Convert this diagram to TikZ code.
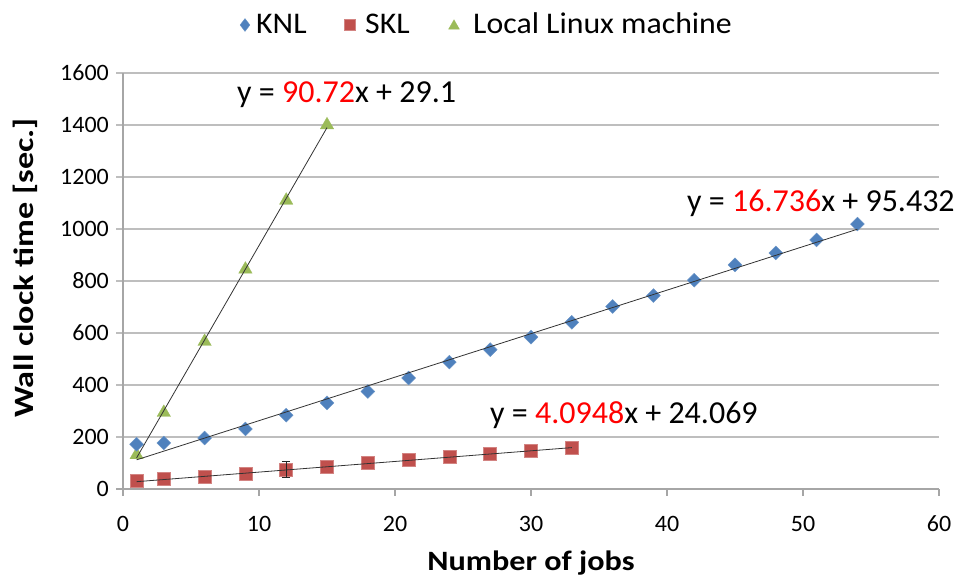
\documentclass[tikz,border=0pt]{standalone}
\usepackage{fontspec}
\setmainfont{Carlito}
\usetikzlibrary{shapes.geometric}

\definecolor{knlblue}{HTML}{4F81BD}
\definecolor{sklred}{HTML}{C0504D}
\definecolor{linuxgreen}{HTML}{9BBB59}
\definecolor{gridgray}{HTML}{BEBEBE}
\definecolor{axisgray}{HTML}{A6A6A6}
\definecolor{fitred}{HTML}{FF0000}

\newcommand{\hwide}[2]{\scalebox{#1}[1]{#2}}

\tikzset{
  knlmark/.style={diamond, fill=knlblue, draw=knlblue!85!white, line width=0.4pt,
    minimum width=14pt, minimum height=14pt, inner sep=0pt},
  sklmark/.style={rectangle, fill=sklred, draw=sklred!70!white, line width=0.6pt,
    minimum size=13pt, inner sep=0pt},
  linuxmark/.style={regular polygon, regular polygon sides=3, fill=linuxgreen,
    draw=linuxgreen, line width=0.3pt, minimum size=15.5pt, inner sep=0pt},
  gridline/.style={draw=gridgray, line width=1.3pt},
  axisline/.style={draw=axisgray, line width=1.3pt},
  fitline/.style={draw=black!80, line width=0.8pt},
  ticklabel/.style={font=\fontsize{23.5}{25}\selectfont, inner sep=0pt},
  fitlabel/.style={font=\fontsize{32}{34}\selectfont, inner sep=0pt, anchor=base west},
  legendtext/.style={font=\fontsize{30}{32}\selectfont, inner sep=0pt, anchor=base west},
  titletext/.style={font=\bfseries\fontsize{28}{30}\selectfont, inner sep=0pt},
}

\begin{document}
\begin{tikzpicture}[x=1pt, y=-1pt]
  \useasboundingbox[fill=white] (0,0) rectangle (958,577);

  % legend
  \node[knlmark, minimum width=10pt, minimum height=13pt] (lgk) at (245,25) {};
  \node[legendtext] (lgkt) at (256,34) {\hwide{1.06}{KNL}};
  \node[sklmark, minimum size=10.5pt] (lgs) at (350,25) {};
  \node[legendtext] (lgst) at (365,34) {\hwide{1.06}{SKL}};
  \node[linuxmark, minimum size=12.5pt] (lgl) at (454,26) {};
  \node[legendtext] (lglt) at (473,34) {\hwide{1.06}{Local Linux machine}};

  % axis titles
  \node[titletext, anchor=base] (xtitle) at (531,570) {\hwide{1.15}{Number of jobs}};
  \node[titletext, anchor=base, rotate=90] (ytitle) at (33,268)
    {\hwide{1.22}{Wall clock time [sec.]}};

  \begin{scope}[shift={(123,489)}, x=13.6pt, y=0.26pt]
    % horizontal gridlines and value labels
    \foreach \v in {200,400,...,1600} {
      \draw[gridline] (-7pt,\v) -- (60,\v);
    }
    \foreach \v in {0,200,...,1600} {
      \node[ticklabel, anchor=east] (yl\v) at ([xshift=-14pt]0,\v) {\hwide{1.02}{\v}};
    }
    % axes and ticks
    \draw[axisline] (0,0) -- (0,1600);
    \draw[axisline] (-7pt,0) -- (60,0);
    \foreach \j in {0,10,...,60} {
      \draw[axisline] (\j,0) -- ([yshift=-7pt]\j,0);
      \node[ticklabel] (xl\j) at ([yshift=-35pt]\j,0) {\hwide{1.02}{\j}};
    }

    % local Linux machine
    \foreach \j/\v [count=\n] in {1/131,3/294,6/567,9/845,12/1110,15/1400} {
      \node[linuxmark] (lx\n) at (\j,\v) {};
    }
    % KNL
    \foreach \j/\v [count=\n] in {1/172,3/177,6/196,9/231,12/284,15/331,18/375,
        21/427,24/488,27/536,30/584,33/641,36/702,39/744,42/803,45/862,48/908,
        51/958,54/1019} {
      \node[knlmark] (kn\n) at (\j,\v) {};
    }
    % SKL
    \foreach \j/\v [count=\n] in {1/31,3/38,6/46,9/57,12/75,15/84,18/99,21/112,
        24/122,27/135,30/148,33/160} {
      \node[sklmark] (sk\n) at (\j,\v) {};
    }

    % error bar on the SKL point at 12 jobs
    \coordinate (ebl) at (12,43);
    \coordinate (ebh) at (12,108);
    \draw[black!85, line width=0.8pt] (ebl) -- (ebh)
      ([xshift=-4pt]ebl) -- ([xshift=4pt]ebl)
      ([xshift=-4pt]ebh) -- ([xshift=4pt]ebh);

    % linear fits
    \coordinate (lxa) at (1,119.82);
    \coordinate (lxb) at (15,1389.9);
    \coordinate (kna) at (1,112.168);
    \coordinate (knb) at (54,999.176);
    \coordinate (ska) at (1,28.164);
    \coordinate (skb) at (33,159.197);
    \draw[fitline] (lxa) -- (lxb);
    \draw[fitline] (kna) -- (knb);
    \draw[fitline] (ska) -- (skb);
  \end{scope}

  % fit equations
  \node[fitlabel] (eqlx) at (237,103) {y = \textcolor{fitred}{90.72}x + 29.1};
  \node[fitlabel] (eqkn) at (687,212) {y = \textcolor{fitred}{16.736}x + 95.432};
  \node[fitlabel] (eqsk) at (490,423) {y = \textcolor{fitred}{4.0948}x + 24.069};
\end{tikzpicture}
\end{document}
